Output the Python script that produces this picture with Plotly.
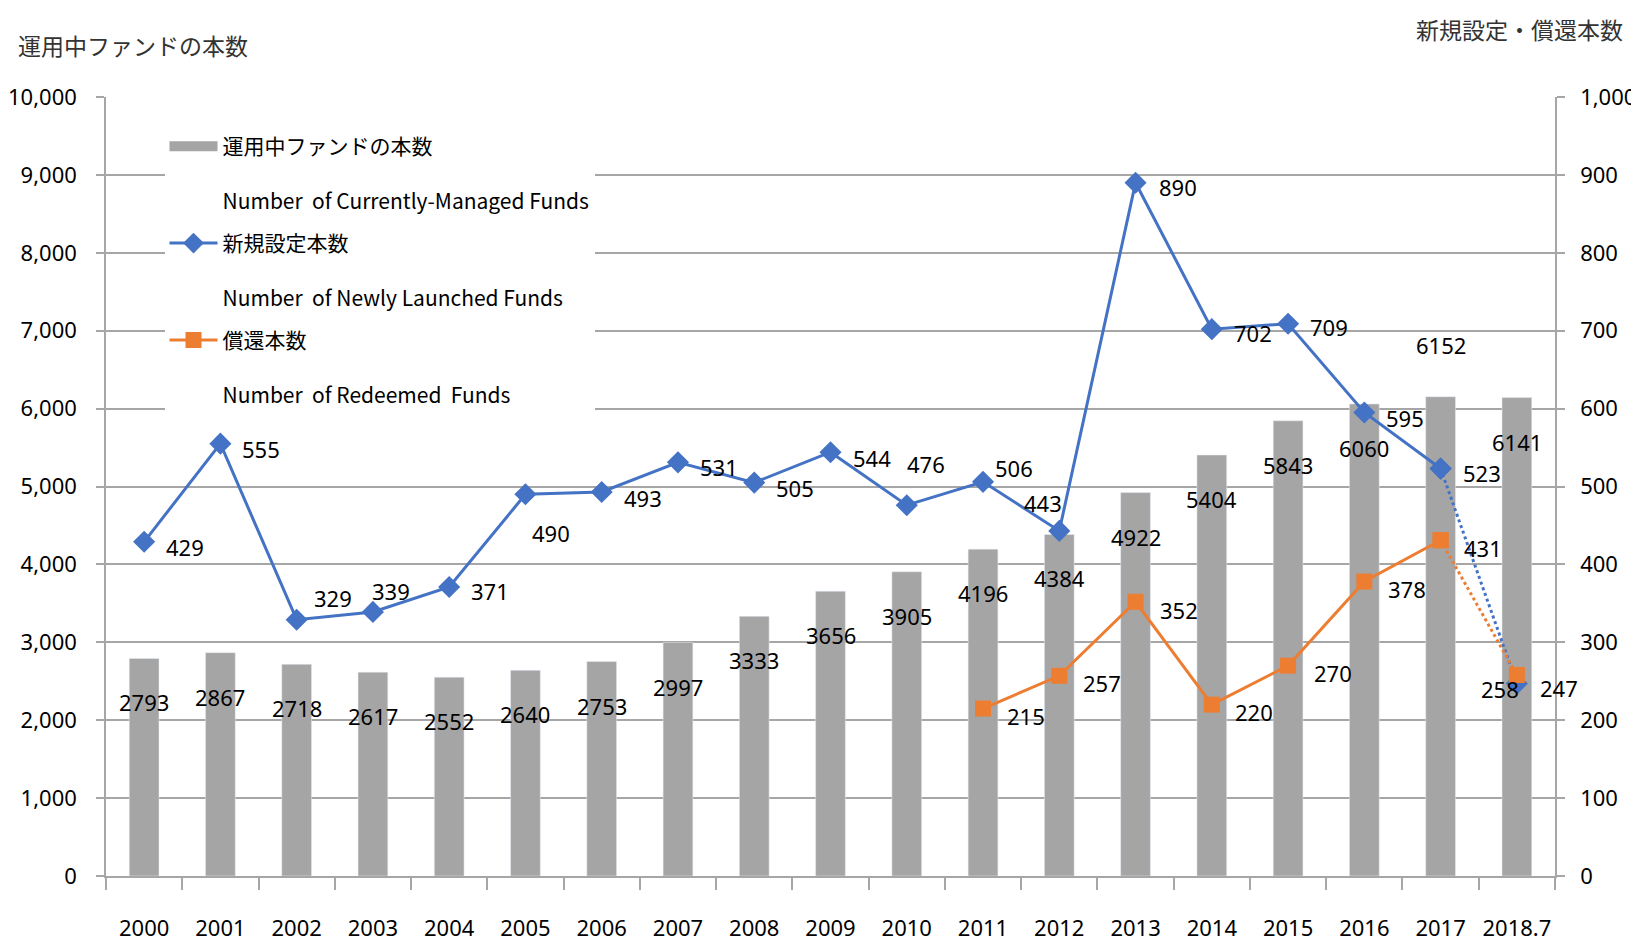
import plotly.graph_objects as go

categories = ["2000", "2001", "2002", "2003", "2004", "2005", "2006", "2007", "2008", "2009",
              "2010", "2011", "2012", "2013", "2014", "2015", "2016", "2017", "2018.7"]
managed = [2793, 2867, 2718, 2617, 2552, 2640, 2753, 2997, 3333, 3656,
           3905, 4196, 4384, 4922, 5404, 5843, 6060, 6152, 6141]
launched = [429, 555, 329, 339, 371, 490, 493, 531, 505, 544,
            476, 506, 443, 890, 702, 709, 595, 523, 247]
redeem_cats = ["2011", "2012", "2013", "2014", "2015", "2016", "2017", "2018.7"]
redeemed = [215, 257, 352, 220, 270, 378, 431, 258]

# label offsets (px) — styling only
bar_label_shift = [-44] * 19
bar_label_shift[17] = 52
launch_off = [(41, -5), (41, -5), (36, 22), (18, 21), (41, -4), (26, -39), (41, -6), (41, -5),
              (41, -5), (41, -6), (19, 41), (31, 14), (-16, 28), (42, -4), (41, -4), (41, -3),
              (41, -5), (41, -4), (42, -4)]
redeem_off = [(43, -7), (43, -7), (43, -8), (42, -7), (45, -7), (43, -7), (42, -8), (-17, -14)]

NUM_FONT = "Noto Sans, sans-serif"
JP_FONT = "Noto Sans CJK JP, sans-serif"
NUM_SIZE = 22
BLUE = "#4472C4"
ORANGE = "#ED7D31"
GRAY = "#A5A5A5"
GRID = "#A6A6A6"

# the page places the figure 8px from the top-left corner of the window
OFF = 8
FW, FH = 1639 - OFF, 942 - OFF
# target plot area in window pixels
PX0, PX1, PY0, PY1 = 106, 1555, 97, 876
L, T = PX0 - OFF, PY0 - OFF
R, B = FW - (PX1 - OFF), FH - (PY1 - OFF)
PW, PH = FW - L - R, FH - T - B

fig = go.Figure()

fig.add_trace(go.Bar(
    x=categories, y=managed, marker_color=GRAY, width=0.39,
    name="運用中ファンドの本数", showlegend=False, yaxis="y",
))
fig.add_trace(go.Scatter(
    x=[None], y=[None], mode="lines", line=dict(color=GRAY, width=18),
    name="運用中ファンドの本数<br> <br>Number  of Currently-Managed Funds",
    legendgroup="a", yaxis="y", hoverinfo="skip",
))

fig.add_trace(go.Scatter(
    x=categories[-2:], y=launched[-2:], mode="lines+markers", yaxis="y2",
    line=dict(color=BLUE, width=3, dash="dot"),
    marker=dict(symbol="diamond", size=17, color=BLUE),
    showlegend=False, hoverinfo="skip",
))
fig.add_trace(go.Scatter(
    x=categories[:-1], y=launched[:-1], mode="lines+markers", yaxis="y2",
    line=dict(color=BLUE, width=3),
    marker=dict(symbol="diamond", size=17, color=BLUE),
    name="新規設定本数<br> <br>Number  of Newly Launched Funds", legendgroup="b",
))
fig.add_trace(go.Scatter(
    x=redeem_cats[-2:], y=redeemed[-2:], mode="lines+markers", yaxis="y2",
    line=dict(color=ORANGE, width=3, dash="dot"),
    marker=dict(symbol="square", size=16, color=ORANGE),
    showlegend=False, hoverinfo="skip",
))
fig.add_trace(go.Scatter(
    x=redeem_cats[:-1], y=redeemed[:-1], mode="lines+markers", yaxis="y2",
    line=dict(color=ORANGE, width=3),
    marker=dict(symbol="square", size=16, color=ORANGE),
    name="償還本数<br> <br>Number  of Redeemed  Funds", legendgroup="c",
))

ann_font = dict(family=NUM_FONT, size=NUM_SIZE, color="#000")
annotations = []
for c, v, s in zip(categories, managed, bar_label_shift):
    annotations.append(dict(x=categories.index(c), y=v, xref="x", yref="y", text=str(v),
                            showarrow=False, yshift=s, font=ann_font))
for c, v, (dx, dy) in zip(categories, launched, launch_off):
    annotations.append(dict(x=categories.index(c), y=v, xref="x", yref="y2", text=str(v),
                            showarrow=False, xshift=dx, yshift=dy, font=ann_font))
for c, v, (dx, dy) in zip(redeem_cats, redeemed, redeem_off):
    annotations.append(dict(x=categories.index(c), y=v, xref="x", yref="y2", text=str(v),
                            showarrow=False, xshift=dx, yshift=dy, font=ann_font))


def px(xw):
    return (xw - PX0) / PW


def py(yw):
    return (PY1 - yw) / PH


annotations.append(dict(x=px(16), y=py(45), xref="paper", yref="paper",
                        xanchor="left", yanchor="middle", showarrow=False,
                        text="運用中ファンドの本数", font=dict(family=JP_FONT, size=23, color="#333")))
annotations.append(dict(x=px(1625), y=py(29), xref="paper", yref="paper",
                        xanchor="right", yanchor="middle", showarrow=False,
                        text="新規設定・償還本数", font=dict(family=JP_FONT, size=23, color="#333")))

fig.update_layout(
    width=FW, height=FH,
    margin=dict(l=L, r=R, t=T, b=B, autoexpand=False),
    paper_bgcolor="white", plot_bgcolor="white",
    font=dict(family=NUM_FONT, size=NUM_SIZE, color="#000"),
    showlegend=True,
    legend=dict(
        x=px(164.5), y=py(126),
        xanchor="left", yanchor="top",
        bgcolor="white", borderwidth=0,
        valign="top", tracegroupgap=12, traceorder="grouped",
        font=dict(family=JP_FONT, size=21, color="#000"),
        itemwidth=48,
    ),
    annotations=annotations,
    xaxis=dict(
        type="category", categoryorder="array", categoryarray=categories,
        range=[-0.5, len(categories) - 0.5], autorange=False, tickangle=0, automargin=False,
        showline=True, linecolor=GRID, linewidth=1.5,
        ticks="outside", tickson="boundaries", ticklen=12, tickcolor=GRID, tickwidth=1.5,
        showgrid=False, ticklabelstandoff=32,
        tickfont=dict(family=NUM_FONT, size=NUM_SIZE, color="#000"),
    ),
    yaxis=dict(
        range=[0, 10000], autorange=False, dtick=1000, tickformat=",", automargin=False,
        showline=True, linecolor=GRID, linewidth=1.5,
        ticks="outside", ticklen=8, tickcolor=GRID, tickwidth=1.5,
        showgrid=True, gridcolor=GRID, gridwidth=1.5, zeroline=False,
        ticklabelstandoff=15,
        tickfont=dict(family=NUM_FONT, size=NUM_SIZE, color="#000"),
    ),
    yaxis2=dict(
        range=[0, 1000], autorange=False, dtick=100, tickformat=",", overlaying="y", side="right",
        automargin=False,
        showline=True, linecolor=GRID, linewidth=1.5,
        ticks="outside", ticklen=8, tickcolor=GRID, tickwidth=1.5,
        showgrid=False, zeroline=False, ticklabelstandoff=11,
        tickfont=dict(family=NUM_FONT, size=NUM_SIZE, color="#000"),
    ),
)

fig.write_html("out.html")
